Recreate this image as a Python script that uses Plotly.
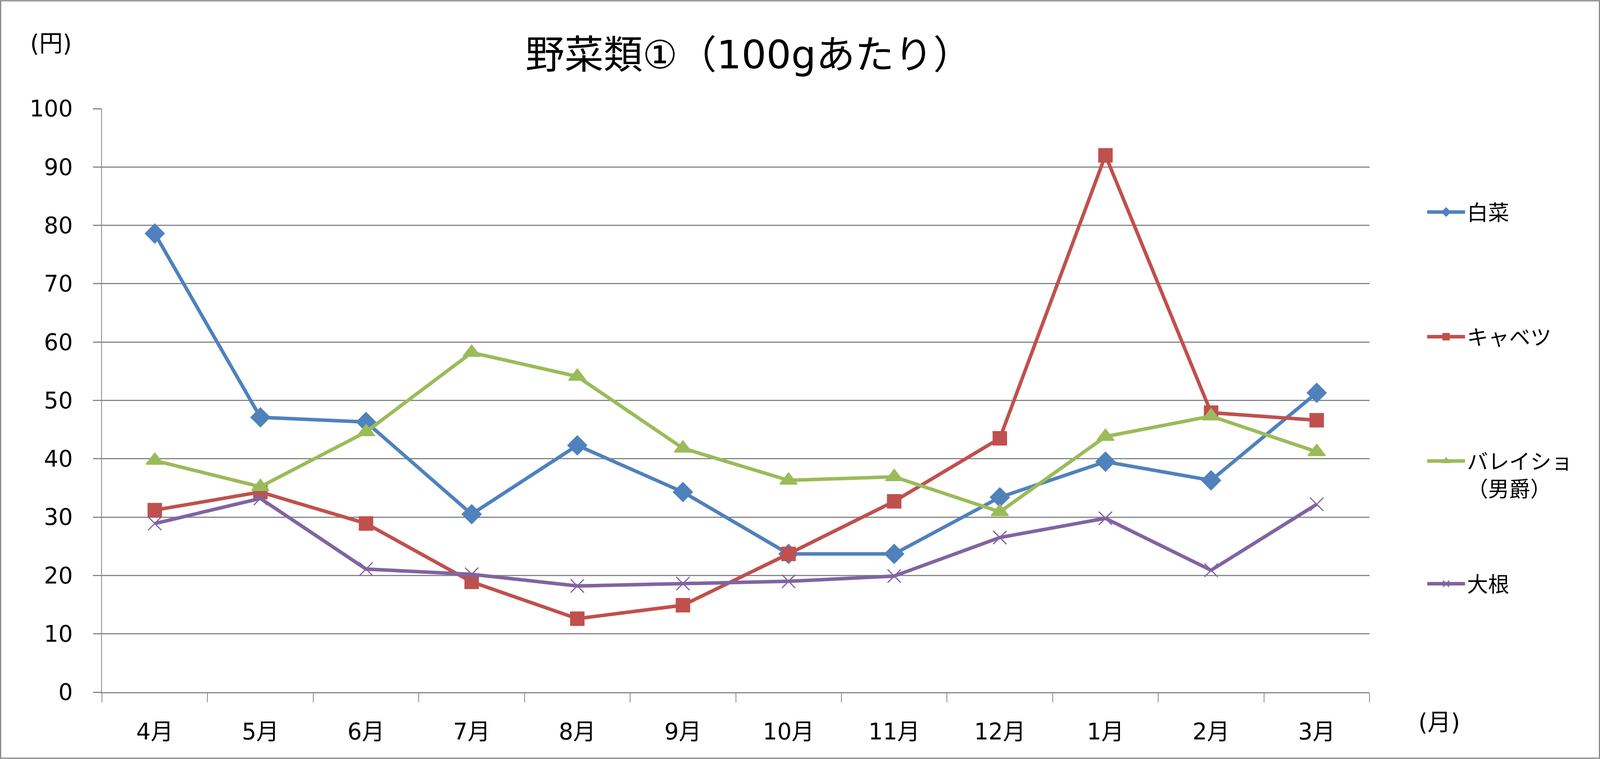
import plotly.graph_objects as go

# 月 (April -> March)
months = ["4月", "5月", "6月", "7月", "8月", "9月",
          "10月", "11月", "12月", "1月", "2月", "3月"]

hakusai = [78.6, 47.1, 46.3, 30.5, 42.3, 34.3, 23.7, 23.7, 33.4, 39.5, 36.3, 51.3]
kyabetsu = [31.2, 34.3, 28.9, 18.9, 12.6, 14.9, 23.7, 32.7, 43.5, 92.0, 47.9, 46.6]
bareisho = [39.7, 35.2, 44.6, 58.2, 54.1, 41.8, 36.3, 36.9, 30.9, 43.8, 47.3, 41.2]
daikon = [28.9, 33.2, 21.1, 20.2, 18.2, 18.6, 19.0, 19.9, 26.5, 29.8, 20.9, 32.2]

W, H = 4454, 1942
L, R, T, B = 284, 642, 278, 171
PW, PH = W - L - R, H - T - B

FONT = "DejaVu Sans, Noto Sans CJK JP, sans-serif"
GRID = "#868686"


def px(x):
    return (x - L) / PW


def py(y):
    return (H - B - y) / PH


fig = go.Figure()

series = [
    ("白菜", hakusai, "#4F81BD", dict(symbol="diamond", size=37), "legend"),
    ("キャベツ", kyabetsu, "#C0504D", dict(symbol="square", size=34), "legend2"),
    ("バレイショ<br>（男爵）", bareisho, "#9BBB59", dict(symbol="triangle-up", size=38), "legend3"),
    ("大根", daikon, "#8064A2", dict(symbol="x-thin", size=34), "legend4"),
]

for name, vals, col, mk, lg in series:
    mk = dict(mk, color=col, line=dict(color=col, width=3))
    fig.add_trace(go.Scatter(
        x=months, y=vals, name=name, mode="lines+markers",
        line=dict(color=col, width=9), marker=mk, legend=lg,
    ))

# legend rows (centre y in pixels from top)
leg_rows = {"legend": 543, "legend2": 862, "legend3": 1215, "legend4": 1494}
leg_cfg = {}
for k, yy in leg_rows.items():
    leg_cfg[k] = dict(
        x=px(3967), xanchor="left",
        y=py(yy), yanchor="middle",
        font=dict(family=FONT, size=54, color="black"),
        itemwidth=97, valign="top", bgcolor="rgba(0,0,0,0)",
    )

fig.update_layout(
    width=W, height=H,
    margin=dict(l=L, r=R, t=T, b=B, autoexpand=False),
    paper_bgcolor="white", plot_bgcolor="white",
    font=dict(family=FONT, size=58, color="black"),
    title=dict(text="野菜類①（100gあたり）", x=0.468, xanchor="center",
               y=1 - 140 / H, yanchor="middle",
               font=dict(family=FONT, size=100, color="black")),
    showlegend=True,
    **leg_cfg,
)

fig.update_xaxes(
    type="category", range=[-0.5, len(months) - 0.5],
    showgrid=False, zeroline=False,
    showline=True, linecolor=GRID, linewidth=3,
    ticks="outside", tickson="boundaries", ticklen=23, tickwidth=2, tickcolor=GRID,
    tickfont=dict(family=FONT, size=58), ticklabelstandoff=48,
)
fig.update_yaxes(
    range=[0, 100], dtick=10, zeroline=False,
    showgrid=True, gridcolor=GRID, gridwidth=3,
    showline=True, linecolor=GRID, linewidth=2,
    ticks="outside", ticklen=21, tickwidth=3, tickcolor=GRID,
    tickfont=dict(family=FONT, size=58), ticklabelstandoff=40,
)

fig.add_annotation(text="(円)", x=px(142), y=py(111), xref="paper", yref="paper",
                   xanchor="center", yanchor="middle",
                   showarrow=False, font=dict(family=FONT, size=60))
fig.add_annotation(text="(月)", x=px(4006), y=py(1848), xref="paper", yref="paper",
                   xanchor="center", yanchor="middle",
                   showarrow=False, font=dict(family=FONT, size=60))

# chart area border
fig.add_shape(type="rect", xref="paper", yref="paper",
              x0=px(2), x1=px(W - 2), y0=py(H - 2), y1=py(2),
              line=dict(color=GRID, width=3), layer="below")

# the window may be smaller than W x H: fit the figure to the real viewport
fit_js = """
document.documentElement.style.overflow = 'hidden';
document.body.style.overflow = 'hidden';
document.body.style.margin = '0';
var gd = document.getElementById('{plot_id}');
var w = window.innerWidth, h = window.innerHeight;
var sx = w / %d, sy = h / %d;
Plotly.relayout(gd, {width: w, height: h,
    'margin.l': %d * sx, 'margin.r': %d * sx,
    'margin.t': %d * sy, 'margin.b': %d * sy});
""" % (W, H, L, R, T, B)

fig.write_html("out.html", post_script=fit_js, config={"displayModeBar": False})
